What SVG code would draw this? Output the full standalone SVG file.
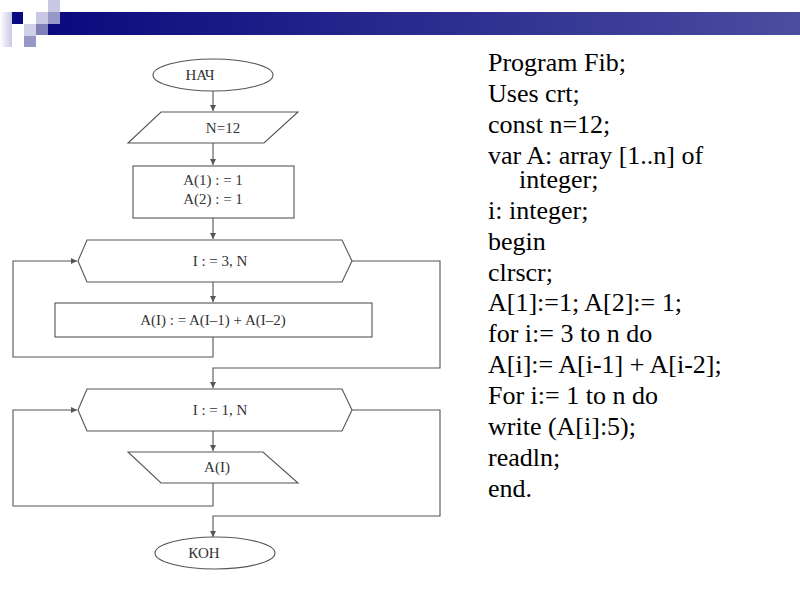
<svg xmlns="http://www.w3.org/2000/svg" width="800" height="600" viewBox="0 0 800 600">
<style>
.shape{fill:#fff;stroke:#555;stroke-width:1.1}
.conn{fill:none;stroke:#555;stroke-width:1.1}
.lbl{font-family:"Liberation Serif","Times New Roman",serif;font-size:15px;fill:#333;text-anchor:middle}
.code{font-family:"Liberation Serif","Times New Roman",serif;font-size:26px;fill:#000}
</style>
<defs>
<linearGradient id="bar" x1="0" y1="0" x2="1" y2="0">
<stop offset="0" stop-color="#0a0a7e"/>
<stop offset="1" stop-color="#4c4ca0"/>
</linearGradient>
<linearGradient id="fade" x1="0" y1="0" x2="1" y2="0">
<stop offset="0" stop-color="#ffffff"/>
<stop offset="1" stop-color="#c8c8e4"/>
</linearGradient>
<marker id="arr" markerWidth="8" markerHeight="8" refX="6" refY="3" orient="auto" markerUnits="userSpaceOnUse">
<path d="M0,0 L6,3 L0,6 Z" fill="#555"/>
</marker>
</defs>
<g id="header">
<rect x="48" y="12" width="752" height="23" fill="url(#bar)"/>
<rect x="0" y="12" width="12" height="35" fill="url(#fade)"/>
<rect x="12" y="12" width="11" height="12" fill="#0a0a80"/>
<rect x="48" y="0" width="12" height="12" fill="#c8c8e4"/>
<rect x="36" y="12" width="12" height="12" fill="#c8c8e4"/>
<rect x="48" y="12" width="12" height="12" fill="#9898c8"/>
<rect x="24" y="24" width="12" height="12" fill="#d0d0e8"/>
<rect x="36" y="24" width="12" height="11" fill="#8080b8"/>
<rect x="24" y="36" width="12" height="11" fill="#9898c8"/>
</g>
<g id="connectors">
<path class="conn" d="M213,91 V111" marker-end="url(#arr)"/>
<path class="conn" d="M213,143 V165" marker-end="url(#arr)"/>
<path class="conn" d="M213,218 V239" marker-end="url(#arr)"/>
<path class="conn" d="M213,282 V302" marker-end="url(#arr)"/>
<path class="conn" d="M213,337 V357 H13 V261 H77" marker-end="url(#arr)"/>
<path class="conn" d="M352,261 H440 V368 H213 V388" marker-end="url(#arr)"/>
<path class="conn" d="M213,431 V451" marker-end="url(#arr)"/>
<path class="conn" d="M213,483 V506 H13 V410 H77" marker-end="url(#arr)"/>
<path class="conn" d="M352,410 H440 V516 H213 V537" marker-end="url(#arr)"/>
</g>
<g id="start">
<ellipse class="shape" cx="213" cy="75" rx="60" ry="16"/>
<text class="lbl" x="200" y="80">НАЧ</text>
</g>
<g id="input">
<polygon class="shape" points="161,112 298,112 264,143 128,143"/>
<text class="lbl" x="223" y="133">N=12</text>
</g>
<g id="init">
<rect class="shape" x="133" y="166" width="161" height="52"/>
<text class="lbl" x="213" y="185">A(1) : = 1</text>
<text class="lbl" x="213" y="204">A(2) : = 1</text>
</g>
<g id="loop1">
<polygon class="shape" points="78,261 87,240 342,240 352,261 342,282 87,282"/>
<text class="lbl" x="220" y="266">I : = 3, N</text>
</g>
<g id="calc">
<rect class="shape" x="55" y="303" width="317" height="34"/>
<text class="lbl" x="213" y="325">A(I) : = A(I–1) + A(I–2)</text>
</g>
<g id="loop2">
<polygon class="shape" points="78,410 87,389 342,389 352,410 342,431 87,431"/>
<text class="lbl" x="220" y="415">I : = 1, N</text>
</g>
<g id="output">
<polygon class="shape" points="128,452 263,452 298,483 161,483"/>
<text class="lbl" x="217" y="472">A(I)</text>
</g>
<g id="end">
<ellipse class="shape" cx="215" cy="553" rx="60" ry="16"/>
<text class="lbl" x="204" y="558">КОН</text>
</g>
<g id="code">
<text class="code" x="488" y="71">Program Fib;</text>
<text class="code" x="488" y="102">Uses crt;</text>
<text class="code" x="488" y="133">const n=12;</text>
<text class="code" x="488" y="164">var A: array [1..n] of</text>
<text class="code" x="519" y="188">integer;</text>
<text class="code" x="488" y="219">i: integer;</text>
<text class="code" x="488" y="250">begin</text>
<text class="code" x="488" y="281">clrscr;</text>
<text class="code" x="488" y="311">A[1]:=1; A[2]:= 1;</text>
<text class="code" x="488" y="342">for i:= 3 to n do</text>
<text class="code" x="488" y="373">A[i]:= A[i-1] + A[i-2];</text>
<text class="code" x="488" y="404">For i:= 1 to n do</text>
<text class="code" x="488" y="435">write (A[i]:5);</text>
<text class="code" x="488" y="466">readln;</text>
<text class="code" x="488" y="497">end.</text>
</g>
</svg>
